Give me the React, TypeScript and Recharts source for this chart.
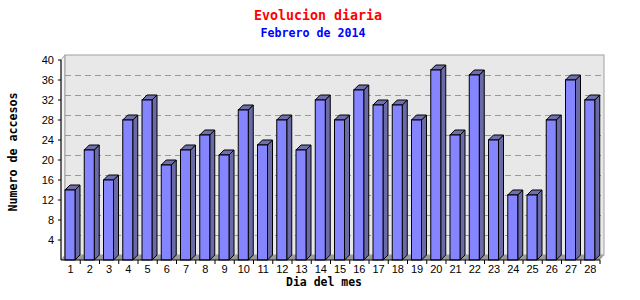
import { BarChart, Bar, XAxis, YAxis, ReferenceArea, ReferenceLine } from "recharts";

const days = [
  "1", "2", "3", "4", "5", "6", "7", "8", "9", "10", "11", "12", "13", "14",
  "15", "16", "17", "18", "19", "20", "21", "22", "23", "24", "25", "26", "27", "28",
];
const visits = [
  14, 22, 16, 28, 32, 19, 22, 25, 21, 30, 23, 28, 22, 32,
  28, 34, 31, 31, 28, 38, 25, 37, 24, 13, 13, 28, 36, 32,
];
const yTicks = [4, 8, 12, 16, 20, 24, 28, 32, 36, 40];
const gridValues = [4, 8, 12, 16, 20, 24, 28, 32, 36];

const data = days.map((d, i) => ({ day: d, value: visits[i] }));

// depth of the fake 3D effect
const DX = 4;
const DY = 5;

const Bar3D = (props: any) => {
  const { x, y, width, height } = props;
  if (!height || height <= 0) return null;
  const fx = x - 1;
  const b = y + height;
  return (
    <g stroke="#000" strokeWidth={1}>
      <polygon
        points={`${fx + width},${y} ${fx + width + 5},${y - 5} ${fx + width + 5},${b - 5} ${fx + width},${b}`}
        fill="#6a6aa6"
      />
      <polygon
        points={`${fx},${y} ${fx + 5},${y - 5} ${fx + width + 5},${y - 5} ${fx + width},${y}`}
        fill="#6f6fae"
      />
      <rect x={fx} y={y} width={width} height={height} fill="#8585ff" />
    </g>
  );
};

// back wall, left wall and floor
const Walls = (props: any) => {
  const { x, y, width, height } = props;
  const b = y + height;
  const r = x + width;
  return (
    <g>
      <polygon
        points={`${x},${b} ${x + DX},${b - DY} ${r + DX},${b - DY} ${r},${b}`}
        fill="#9a9a9a"
      />
      <polygon
        points={`${x},${y} ${x + DX},${y - DY} ${x + DX},${b - DY} ${x},${b}`}
        fill="#f4f4f4"
        stroke="#a0a0a0"
      />
      <rect
        x={x + DX}
        y={y - DY}
        width={width}
        height={height}
        fill="#e8e8e8"
        stroke="#a0a0a0"
      />
    </g>
  );
};

const GridLine = (p: any) => (
  <line
    x1={p.x1 + DX}
    y1={Math.round(p.y1 - DY) + 0.5}
    x2={p.x2 + DX}
    y2={Math.round(p.y2 - DY) + 0.5}
    stroke="#999"
    strokeDasharray="6 4"
  />
);

const XTick = (props: any) => {
  const { x, y, payload } = props;
  const half = payload && payload.offset ? payload.offset : 9.6;
  const axisY = y - 6;
  return (
    <g>
      <line x1={x + half} y1={axisY} x2={x + half} y2={axisY + 4} stroke="#000" />
      <text
        x={x}
        y={axisY + 13}
        textAnchor="middle"
        fontFamily="Liberation Sans, Arial, sans-serif"
        fontSize={11}
        fill="#000"
      >
        {payload.value}
      </text>
    </g>
  );
};

export default function App() {
  return (
    <div style={{ position: "absolute", left: 0, top: 0, width: 640, height: 300, background: "#fff" }}>
      <BarChart
        width={640}
        height={300}
        data={data}
        margin={{ top: 60, right: 40, bottom: 0, left: 16 }}
        barSize={10}
      >
        <ReferenceArea y1={0} y2={40} shape={Walls} zIndex={-200} ifOverflow="visible" />
        {gridValues.map((v) => (
          <ReferenceLine key={v} y={v} shape={GridLine} zIndex={-150} ifOverflow="visible" />
        ))}
        <XAxis
          dataKey="day"
          height={40}
          tickLine={false}
          tickSize={4}
          tickMargin={2}
          axisLine={{ stroke: "#000" }}
          tick={<XTick />}
          interval={0}
        />
        <YAxis
          width={45}
          domain={[0, 40]}
          ticks={yTicks}
          tickSize={3}
          tickMargin={4}
          axisLine={{ stroke: "#000" }}
          tickLine={{ stroke: "#000" }}
          tick={{ fill: "#000", fontSize: 11, fontFamily: "Liberation Sans, Arial, sans-serif" }}
        />
        <Bar dataKey="value" shape={Bar3D} isAnimationActive={false} />
        <text
          x={318}
          y={20}
          textAnchor="middle"
          fill="#ff0000"
          fontFamily="DejaVu Sans Mono, monospace"
          fontWeight="bold"
          fontSize={14}
          textLength={128}
          lengthAdjust="spacingAndGlyphs"
        >
          Evolucion diaria
        </text>
        <text
          x={313}
          y={37}
          textAnchor="middle"
          fill="#0000ff"
          fontFamily="DejaVu Sans Mono, monospace"
          fontWeight="bold"
          fontSize={12}
          textLength={105}
          lengthAdjust="spacingAndGlyphs"
        >
          Febrero de 2014
        </text>
        <text
          x={324}
          y={286}
          textAnchor="middle"
          fill="#000"
          fontFamily="DejaVu Sans Mono, monospace"
          fontWeight="bold"
          fontSize={12}
          textLength={76}
          lengthAdjust="spacingAndGlyphs"
        >
          Dia del mes
        </text>
        <text
          transform="translate(17,152) rotate(-90)"
          textAnchor="middle"
          fill="#000"
          fontFamily="DejaVu Sans Mono, monospace"
          fontWeight="bold"
          fontSize={12}
          textLength={119}
          lengthAdjust="spacingAndGlyphs"
        >
          Numero de accesos
        </text>
      </BarChart>
    </div>
  );
}
